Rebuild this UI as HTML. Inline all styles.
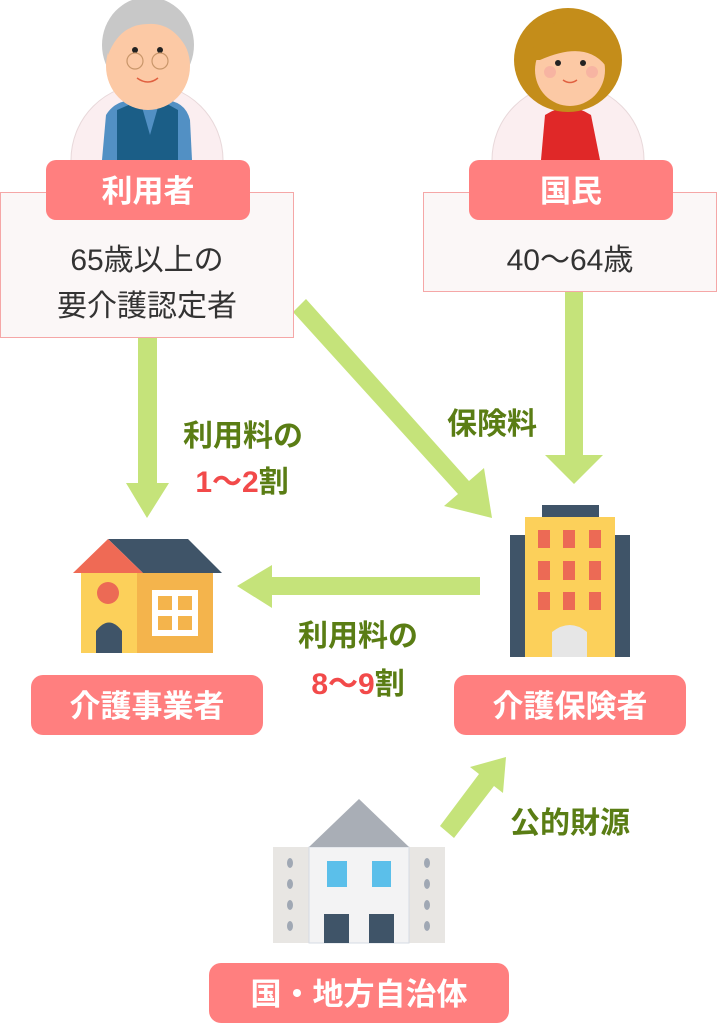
<!DOCTYPE html>
<html><head><meta charset="utf-8"><style>
html,body{margin:0;padding:0;background:#fff;}
svg{display:block;}
text{font-family:"Liberation Sans","Noto Sans CJK JP",sans-serif;}
</style></head><body>
<svg width="717" height="1024" viewBox="0 0 717 1024" xmlns="http://www.w3.org/2000/svg">
<g fill="#c5e37a">
<polygon points="138,337 157,337 157,483 169,483 147,518 126,483 138,483"/>
<polygon points="293,312 306,299 469,481 484,468 492,518 444,506 458,494"/>
<polygon points="565,291 583,291 583,455 603,455 574,484 545,455 565,455"/>
<polygon points="480,577 480,595 272,595 272,608 237,586 272,565 272,577"/>
<polygon points="440,826 454,838 494,786 503,793 506,757 470,767 479,774"/>
</g>
<!-- elder -->
<ellipse cx="147" cy="160" rx="76" ry="76" fill="#fbeef0" stroke="#e8d8da"/>
<path d="M102,160 L106,115 Q115,100 135,100 L162,100 Q185,100 190,120 L192,160 Z" fill="#5290c4"/>
<path d="M117,160 L117,110 L140,100 L150,135 L160,100 L178,110 L178,160 Z" fill="#1b5e87"/>
<ellipse cx="148" cy="45" rx="46" ry="48" fill="#c8c8c8"/>
<ellipse cx="148" cy="66" rx="42" ry="44" fill="#fcc9a5"/>
<path d="M108,35 Q148,-5 190,35 L190,55 Q175,22 148,24 Q120,24 108,55 Z" fill="#c8c8c8"/>
<circle cx="135" cy="50" r="3" fill="#222"/><circle cx="160" cy="50" r="3" fill="#222"/>
<circle cx="135" cy="61" r="8" fill="none" stroke="#c9966a" stroke-width="1.2"/><circle cx="160" cy="61" r="8" fill="none" stroke="#c9966a" stroke-width="1.2"/>
<path d="M137,78 Q148,86 158,78" fill="none" stroke="#e06040" stroke-width="1.5"/>
<!-- woman -->
<ellipse cx="568" cy="160" rx="76" ry="76" fill="#fbeef0" stroke="#e8d8da"/>
<path d="M541,160 L545,115 Q568,100 591,115 L600,160 Z" fill="#e02828"/>
<ellipse cx="568" cy="60" rx="54" ry="52" fill="#c48d1a"/>
<ellipse cx="570" cy="70" rx="35" ry="36" fill="#fcc9a5"/>
<path d="M530,60 Q540,15 580,20 Q600,35 605,65 Q585,40 540,60 Z" fill="#c48d1a"/>
<circle cx="558" cy="63" r="3" fill="#222"/><circle cx="583" cy="63" r="3" fill="#222"/>
<circle cx="550" cy="72" r="6" fill="#f3a6a0" opacity=".6"/><circle cx="592" cy="72" r="6" fill="#f3a6a0" opacity=".6"/>
<path d="M563,80 Q570,85 577,80" fill="none" stroke="#e06040" stroke-width="1.5"/>
<!-- boxes -->
<rect x="0.5" y="192.5" width="293" height="145" fill="#fbf7f7" stroke="#f5a7a7"/>
<rect x="423.5" y="192.5" width="293" height="99" fill="#fbf7f7" stroke="#f5a7a7"/>
<g fill="#ff7f7f">
<rect x="46" y="160" width="204" height="60" rx="10"/>
<rect x="469" y="160" width="204" height="60" rx="10"/>
<rect x="31" y="675" width="232" height="60" rx="12"/>
<rect x="454" y="675" width="232" height="60" rx="12"/>
<rect x="209" y="963" width="300" height="60" rx="12"/>
</g>
<g fill="#fff" font-size="31" font-weight="bold" text-anchor="middle">
<text x="148" y="202">利用者</text>
<text x="571" y="202">国民</text>
<text x="147" y="717">介護事業者</text>
<text x="570" y="717">介護保険者</text>
<text x="359" y="1005">国・地方自治体</text>
</g>
<g fill="#333" font-size="30" text-anchor="middle">
<text x="147" y="270">65歳以上の</text>
<text x="147" y="316">要介護認定者</text>
<text x="570" y="270">40～64歳</text>
</g>
<g font-size="30" font-weight="bold" text-anchor="middle" fill="#5a7d14">
<text x="243" y="446">利用料の</text>
<text x="492" y="434">保険料</text>
<text x="358" y="646">利用料の</text>
<text x="570" y="833">公的財源</text>
<text x="242" y="492"><tspan fill="#f24a4a">1～2</tspan>割</text>
<text x="358" y="694"><tspan fill="#f24a4a">8～9</tspan>割</text>
</g>
<!-- house -->
<rect x="81" y="572" width="56" height="81" fill="#fcd05a"/>
<rect x="137" y="572" width="76" height="81" fill="#f4b44c"/>
<polygon points="108,539 188,539 222,573 143,573" fill="#3f5468"/>
<polygon points="108,539 73,573 143,573" fill="#ef6a55"/>
<circle cx="108" cy="593" r="11" fill="#ec6a55"/>
<path d="M96,653 L96,631 Q109,614 122,631 L122,653 Z" fill="#3f5468"/>
<rect x="152" y="590" width="46" height="46" fill="#fff"/>
<g fill="#f4b44c"><rect x="158" y="596" width="14" height="14"/><rect x="178" y="596" width="14" height="14"/><rect x="158" y="616" width="14" height="14"/><rect x="178" y="616" width="14" height="14"/></g>
<!-- insurer building -->
<rect x="510" y="535" width="120" height="122" fill="#3f5468"/>
<rect x="542" y="505" width="57" height="13" fill="#3f5468"/>
<rect x="525" y="517" width="90" height="140" fill="#fcd05a"/>
<g fill="#ec6a55">
<rect x="538" y="530" width="12" height="18"/><rect x="563" y="530" width="12" height="18"/><rect x="589" y="530" width="12" height="18"/>
<rect x="538" y="561" width="12" height="19"/><rect x="563" y="561" width="12" height="19"/><rect x="589" y="561" width="12" height="19"/>
<rect x="538" y="592" width="12" height="18"/><rect x="563" y="592" width="12" height="18"/><rect x="589" y="592" width="12" height="18"/>
</g>
<path d="M552,657 L552,632 Q570,618 587,632 L587,657 Z" fill="#e6e6e6"/>
<!-- government -->
<rect x="273" y="847" width="172" height="96" fill="#e8e6e3"/>
<rect x="309" y="847" width="100" height="96" fill="#f3f3f4" stroke="#d6dbe3"/>
<polygon points="359,799 309,847 409,847" fill="#a9aeb6"/>
<g fill="#a0a8b4"><ellipse cx="290" cy="863" rx="3" ry="5"/><ellipse cx="290" cy="884" rx="3" ry="5"/><ellipse cx="290" cy="905" rx="3" ry="5"/><ellipse cx="290" cy="926" rx="3" ry="5"/><ellipse cx="427" cy="863" rx="3" ry="5"/><ellipse cx="427" cy="884" rx="3" ry="5"/><ellipse cx="427" cy="905" rx="3" ry="5"/><ellipse cx="427" cy="926" rx="3" ry="5"/></g>
<rect x="327" y="861" width="20" height="26" fill="#5bbfea"/><rect x="372" y="861" width="19" height="26" fill="#5bbfea"/>
<rect x="324" y="914" width="25" height="29" fill="#3f5468"/><rect x="369" y="914" width="25" height="29" fill="#3f5468"/>
</svg>
</body></html>
